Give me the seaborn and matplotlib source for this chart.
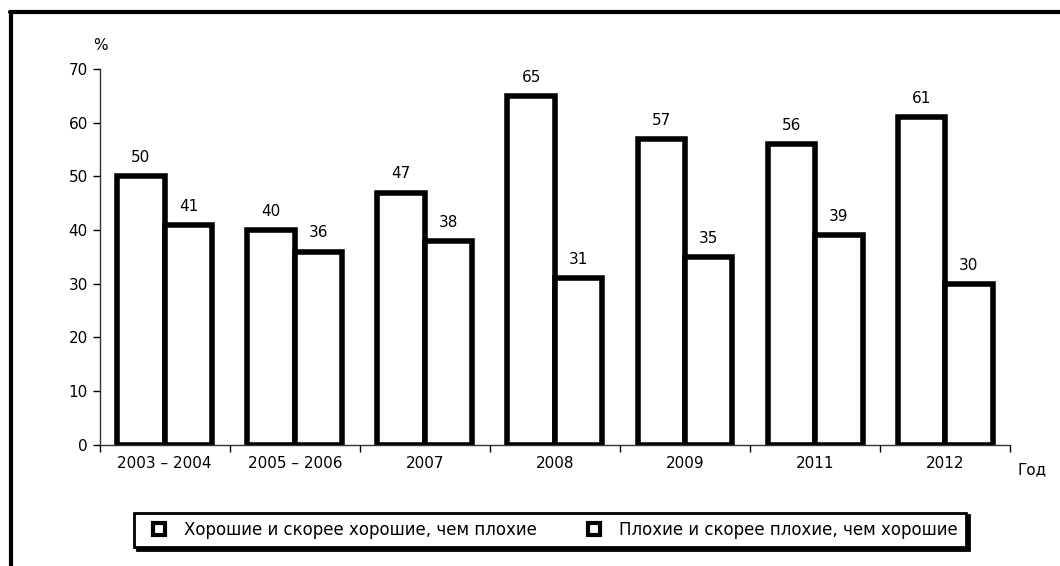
import numpy as np
import pandas as pd
import matplotlib
matplotlib.use('Agg')
import matplotlib.pyplot as plt
import seaborn as sns
from matplotlib.lines import Line2D

years = ['2003 – 2004', '2005 – 2006', '2007', '2008', '2009', '2011', '2012']
good = [50, 40, 47, 65, 57, 56, 61]
bad = [41, 36, 38, 31, 35, 39, 30]
series = ['Хорошие и скорее хорошие, чем плохие', 'Плохие и скорее плохие, чем хорошие']

df = pd.DataFrame({
    'year': years * 2,
    'value': good + bad,
    'series': [series[0]] * len(years) + [series[1]] * len(years),
})

sns.set_style('white')
plt.rcParams['font.family'] = ['DejaVu Sans']
plt.rcParams['text.color'] = 'black'
plt.rcParams['xtick.color'] = 'black'
plt.rcParams['ytick.color'] = 'black'

fig = plt.figure(figsize=(10.6, 5.66), dpi=100)
ax = fig.add_axes([0.094, 0.214, 0.859, 0.664])

sns.barplot(data=df, x='year', y='value', hue='series', order=years, hue_order=series,
            palette=['white', 'white'], edgecolor='black', linewidth=4,
            width=0.73, gap=0, ax=ax, legend=False)

for cont in ax.containers:
    ax.bar_label(cont, padding=8, fontsize=11)

ax.set_ylim(0, 70)
ax.set_xlim(-0.5, len(years) - 0.5)
ax.set_yticks(range(0, 71, 10))
ax.set_xlabel('')
ax.set_ylabel('')
ax.tick_params(axis='x', which='major', length=0, labelsize=11, pad=8)
ax.tick_params(axis='y', length=5, width=1, labelsize=11, direction='out', left=True)
ax.set_xticks(np.arange(-0.5, len(years)), minor=True)
ax.tick_params(axis='x', which='minor', length=5, width=1, direction='out', bottom=True)
for s in ['top', 'right']:
    ax.spines[s].set_visible(False)
for s in ['left', 'bottom']:
    ax.spines[s].set_color('#333333')
    ax.spines[s].set_linewidth(1)

fig.text(100 / 1060, 1 - 45 / 566, '%', ha='center', va='center', fontsize=11)
fig.text(1032 / 1060, 1 - 470 / 566, 'Год', ha='center', va='center', fontsize=11)

handles = [Line2D([0], [0], marker='s', linestyle='none', markersize=9,
                  markerfacecolor='white', markeredgecolor='black', markeredgewidth=3)
           for _ in series]
leg = fig.legend(handles, series, loc='center', bbox_to_anchor=(550 / 1060, 1 - 530 / 566),
                 ncol=2, frameon=True, fancybox=False, fontsize=12,
                 shadow={'color': 'black', 'alpha': 1, 'ox': 2, 'oy': -2},
                 handletextpad=0.5, columnspacing=2.4, borderpad=0.5, handlelength=2.0)
leg.get_frame().set_edgecolor('black')
leg.get_frame().set_linewidth(2)

# outer frame (top and left only, the rest is cut off)
fig.add_artist(Line2D([10 / 1060, 1], [1 - 12 / 566, 1 - 12 / 566], color='black', lw=3,
                      transform=fig.transFigure))
fig.add_artist(Line2D([11 / 1060, 11 / 1060], [0, 1 - 12 / 566], color='black', lw=3,
                      transform=fig.transFigure))

fig.savefig('out.png', dpi=100)
